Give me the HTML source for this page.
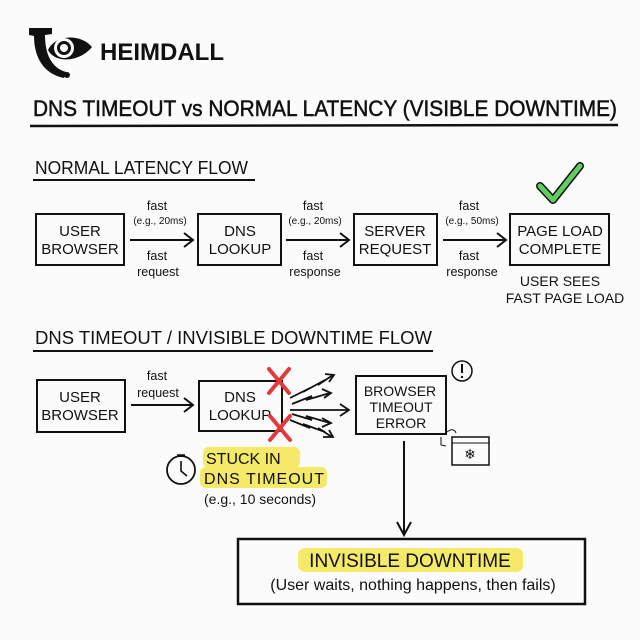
<!DOCTYPE html>
<html><head><meta charset="utf-8"><style>
html,body{margin:0;padding:0;background:#fbfbfb;}
svg{display:block}
text{font-family:"Liberation Sans",sans-serif;fill:#111;}
.b{fill:none;stroke:#111;stroke-width:2;}
.t{font-size:15px;text-anchor:middle;}
.s{font-size:12.5px;text-anchor:middle;}
.xs{font-size:10px;text-anchor:middle;}
.h{stroke:#111;stroke-width:0.5;}
</style></head><body>
<svg width="640" height="640" viewBox="0 0 640 640" xmlns="http://www.w3.org/2000/svg">
<rect width="640" height="640" fill="#fbfbfb"/>
<!-- logo -->
<path d="M29 28 L52 28 L52 34 L45 35 C45 55 52 68 66 72 L64 78 C44 74 34 58 34 36 L29 35 Z" fill="#111"/>
<circle cx="67" cy="75" r="3" fill="#111"/>
<path d="M48 50 C55 35 80 33 92 47 C80 62 55 64 48 50 Z" fill="#111"/>
<circle cx="64" cy="48" r="10" fill="#fbfbfb"/>
<circle cx="64" cy="48" r="7" fill="#111"/>
<circle cx="64" cy="48" r="4" fill="#fbfbfb"/>
<text x="100" y="60" style="font-size:24px;font-weight:bold">HEIMDALL</text>
<!-- title -->
<text x="33" y="116" class="h" style="font-size:22px" textLength="584" lengthAdjust="spacingAndGlyphs">DNS TIMEOUT vs NORMAL LATENCY (VISIBLE DOWNTIME)</text>
<path d="M30 126 L618 125" stroke="#111" stroke-width="2.5"/>
<text x="35" y="174" style="font-size:18px" textLength="213" lengthAdjust="spacingAndGlyphs">NORMAL LATENCY FLOW</text>
<path d="M33 180 L255 180" stroke="#111" stroke-width="2"/>
<!-- row1 boxes -->
<rect class="b" x="36" y="214" width="88" height="51"/>
<rect class="b" x="198" y="214" width="83" height="51"/>
<rect class="b" x="354" y="214" width="83" height="51"/>
<rect class="b" x="510" y="214" width="99" height="51"/>
<text class="t" x="80" y="236">USER</text><text class="t" x="80" y="254">BROWSER</text>
<text class="t" x="240" y="236">DNS</text><text class="t" x="240" y="254">LOOKUP</text>
<text class="t" x="395" y="236">SERVER</text><text class="t" x="395" y="254">REQUEST</text>
<text class="t" x="560" y="236">PAGE LOAD</text><text class="t" x="560" y="254">COMPLETE</text>
<g stroke="#111" stroke-width="2" fill="none">
<path d="M130 240 L192 240 M184 233 L193 240 L184 247"/>
<path d="M286 240 L348 240 M340 233 L349 240 L340 247"/>
<path d="M443 240 L505 240 M497 233 L506 240 L497 247"/>
</g>
<text class="s" x="157" y="210">fast</text><text class="xs" x="160" y="224">(e.g., 20ms)</text>
<text class="s" x="157" y="260">fast</text><text class="s" x="158" y="276">request</text>
<text class="s" x="313" y="210">fast</text><text class="xs" x="315" y="224">(e.g., 20ms)</text>
<text class="s" x="313" y="260">fast</text><text class="s" x="315" y="276">response</text>
<text class="s" x="469" y="210">fast</text><text class="xs" x="472" y="224">(e.g., 50ms)</text>
<text class="s" x="469" y="260">fast</text><text class="s" x="472" y="276">response</text>
<text class="t" x="560" y="286" style="font-size:14px">USER SEES</text>
<text class="t" x="565" y="303" style="font-size:14px">FAST PAGE LOAD</text>
<path d="M540 186 L553 200 L580 166" fill="none" stroke="#111" stroke-width="8" stroke-linecap="round" stroke-linejoin="round"/>
<path d="M540 186 L553 200 L580 166" fill="none" stroke="#5fce5f" stroke-width="5" stroke-linecap="round" stroke-linejoin="round"/>
<!-- section2 -->
<text x="35" y="344" style="font-size:18px" textLength="397" lengthAdjust="spacingAndGlyphs">DNS TIMEOUT / INVISIBLE DOWNTIME FLOW</text>
<path d="M33 351 L433 351" stroke="#111" stroke-width="2"/>
<rect class="b" x="37" y="380" width="88" height="52"/>
<rect class="b" x="199" y="381" width="83" height="50"/>
<rect class="b" x="356" y="376" width="90" height="58"/>
<text class="t" x="80" y="402">USER</text><text class="t" x="80" y="420">BROWSER</text>
<text class="t" x="240" y="402">DNS</text><text class="t" x="240" y="420">LOOKUP</text>
<text class="t" x="400" y="396" style="font-size:14px">BROWSER</text>
<text class="t" x="401" y="412" style="font-size:14px">TIMEOUT</text>
<text class="t" x="401" y="428" style="font-size:14px">ERROR</text>
<path d="M131 405 L192 405 M184 398 L193 405 L184 412" stroke="#111" stroke-width="2" fill="none"/>
<text class="s" x="157" y="380">fast</text><text class="s" x="158" y="397">request</text>
<g stroke="#111" stroke-width="1.8" fill="none">
<path d="M290 398 L310 388 L303 392 L325 380 L318 385 L333 375 M325 374 L334 375 L329 382"/>
<path d="M292 404 L312 396 L306 400 L330 393 M322 389 L331 393 L324 398"/>
<path d="M290 410 L348 410 M340 404 L349 410 L340 416"/>
<path d="M292 414 L312 420 L306 416 L330 423 M322 418 L331 423 L322 427"/>
<path d="M290 420 L310 428 L303 424 L325 432 L318 428 L332 437 M323 437 L333 437 L329 430"/>
</g>
<g stroke="#e03a3a" stroke-width="4" stroke-linecap="round">
<path d="M269 369 L289 393 M289 369 L269 393"/>
<path d="M270 416 L290 440 M290 416 L270 440"/>
</g>
<circle cx="462" cy="371" r="10" fill="none" stroke="#111" stroke-width="1.5"/>
<path d="M462 364 L462 373" stroke="#111" stroke-width="2"/><circle cx="462" cy="377" r="1.2" fill="#111"/>
<rect x="452" y="437" width="37" height="28" fill="none" stroke="#111" stroke-width="1.5"/>
<path d="M452 443 L489 443" stroke="#111" stroke-width="1"/>
<text x="470" y="459" class="s" style="font-size:14px">❄</text>
<path d="M447 432 C452 428 455 430 456 433 M441 437 L441 445 L446 446" stroke="#111" stroke-width="1" fill="none"/>
<path d="M404 441 L404 534 M397 522 L404 535 L411 522" stroke="#111" stroke-width="2" fill="none"/>
<!-- stuck -->
<circle cx="181" cy="470" r="14" fill="none" stroke="#111" stroke-width="1.8"/>
<path d="M181 461 L181 471 L187 476 M177 455 L185 455 M181 455 L181 457" stroke="#111" stroke-width="1.6" fill="none"/>
<rect x="203" y="447" width="97" height="21" rx="6" fill="#f5e96a"/>
<rect x="200" y="467" width="127" height="21" rx="6" fill="#f5e96a"/>
<text x="206" y="464" style="font-size:16px">STUCK IN</text>
<text x="204" y="484" style="font-size:16px" textLength="120">DNS TIMEOUT</text>
<text x="204" y="504" style="font-size:14px">(e.g., 10 seconds)</text>
<!-- bottom -->
<rect x="238" y="539" width="347" height="65" fill="none" stroke="#111" stroke-width="2.5"/>
<rect x="298" y="548" width="225" height="24" rx="7" fill="#f5e96a"/>
<text x="410" y="567" style="font-size:19px;text-anchor:middle">INVISIBLE DOWNTIME</text>
<text x="413" y="590" style="font-size:16px;text-anchor:middle">(User waits, nothing happens, then fails)</text>
</svg>
</body></html>
